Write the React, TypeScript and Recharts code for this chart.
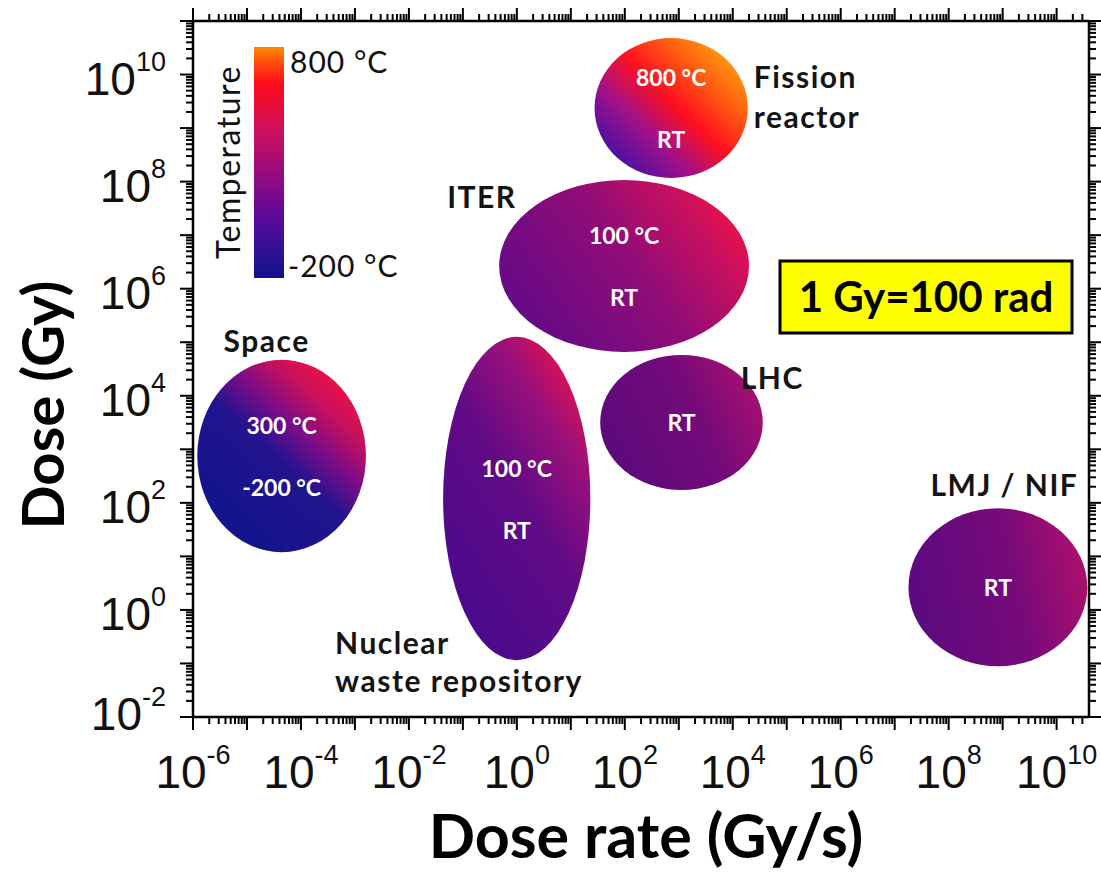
import React from 'react';
import { ComposedChart, XAxis, YAxis, ReferenceArea, Scatter } from 'recharts';

// irradiation environments: dose-rate range (Gy/s) and dose range (Gy)
const regionNames = ['Space', 'Nuclear waste repository', 'ITER', 'Fission reactor', 'LHC', 'LMJ / NIF'];
const doseRateMin = [1.2e-6, 0.043, 0.47, 27.5, 35, 1.8e7];
const doseRateMax = [1.6e-3, 23, 2.0e4, 1.9e4, 3.6e4, 3.7e10];
const doseMin = [12, 0.115, 6.6e4, 1.17e8, 174, 0.089];
const doseMax = [4.7e4, 1.26e5, 1.07e8, 4.8e10, 5.8e4, 79];
const tempHigh = ['300 °C', '100 °C', '100 °C', '800 °C', '', ''];
const tempLow = ['-200 °C', 'RT', 'RT', 'RT', 'RT', 'RT'];

// axis tick labels (powers of ten)
const xTickExponents = [-6, -4, -2, 0, 2, 4, 6, 8, 10];
const yTickExponents = [-2, 0, 2, 4, 6, 8, 10];
const colorbarLabels = ['800 °C', '-200 °C'];

const xDomain: [number, number] = [1e-6, Math.pow(10, 10.6)];
const yDomain: [number, number] = [1e-2, 1e11];

const AXIS_FONT = '"Liberation Sans", Arial, sans-serif';
const TEXT_FONT = 'Lato, "Open Sans", sans-serif';

// region centres (geometric mean of each range) so the axes have data
const centres = regionNames.map((name, i) => ({
  name,
  rate: Math.sqrt(doseRateMin[i] * doseRateMax[i]),
  dose: Math.sqrt(doseMin[i] * doseMax[i]),
}));

// gradient look of every ellipse (direction + stops)
const regionGradients = [
  { x1: 0.25, y1: 0.85, x2: 0.85, y2: 0.1, stops: [[0, '#14148c'], [0.42, '#22148e'], [0.62, '#7a0c88'], [0.82, '#c8105c'], [1, '#f01044']] },
  { x1: 0.2, y1: 0.9, x2: 0.8, y2: 0.05, stops: [[0, '#4a0a8c'], [0.5, '#620a86'], [0.8, '#9a107a'], [1, '#e01050']] },
  { x1: 0, y1: 0.8, x2: 1, y2: 0.3, stops: [[0, '#5e0a88'], [0.55, '#900c78'], [0.85, '#c8105e'], [1, '#f01048']] },
  { x1: 0.1, y1: 0.9, x2: 0.9, y2: 0.15, stops: [[0, '#3a10a8'], [0.3, '#a0108a'], [0.55, '#ff1020'], [0.8, '#ff6010'], [1, '#ff9a10']] },
  { x1: 0, y1: 0.7, x2: 1, y2: 0.3, stops: [[0, '#5a0a7c'], [0.6, '#740a7a'], [1, '#a81070']] },
  { x1: 0, y1: 0.6, x2: 1, y2: 0.4, stops: [[0, '#5a0a80'], [0.6, '#780a7a'], [1, '#ac106c']] },
];

// where the black name of each region sits, relative to its ellipse box
const namePlacement = [
  { lines: ['Space'], anchor: 'middle', fromX: 'center', dx: -15, fromY: 'top', dy: [-8] },
  { lines: ['Nuclear', 'waste repository'], anchor: 'start', fromX: 'left', dx: -108, fromY: 'bottom', dy: [-6, 32] },
  { lines: ['ITER'], anchor: 'start', fromX: 'left', dx: -52, fromY: 'top', dy: [28] },
  { lines: ['Fission', 'reactor'], anchor: 'start', fromX: 'right', dx: 6, fromY: 'top', dy: [50, 90] },
  { lines: ['LHC'], anchor: 'start', fromX: 'right', dx: -22, fromY: 'top', dy: [34] },
  { lines: ['LMJ / NIF'], anchor: 'start', fromX: 'left', dx: 22, fromY: 'top', dy: [-12] },
];

function logTicks(minExp: number, maxVal: number) {
  const out: number[] = [];
  for (let e = minExp; e < 20; e++) {
    for (let m = 1; m <= 9; m++) {
      const v = m * Math.pow(10, e);
      if (v > maxVal * 1.0001) return out;
      out.push(v);
    }
  }
  return out;
}

const xTicks = logTicks(-6, xDomain[1]);
const yTicks = logTicks(-2, yDomain[1]);

const isMajor = (v: number) => Math.abs(Math.log10(v) - Math.round(Math.log10(v))) < 1e-6;
const MAJOR = 13;
const MINOR = 7;

function PowerLabel({ x, y, exp, anchor }: any) {
  return (
    <text x={x} y={y} textAnchor={anchor} fontFamily={AXIS_FONT} fill="#111">
      <tspan fontSize={46}>10</tspan>
      <tspan fontSize={27} dy={-24}>{exp}</tspan>
    </text>
  );
}

function BottomTick(props: any) {
  const { x, y, payload } = props;
  const v = payload.value;
  const major = isMajor(v);
  const exp = Math.round(Math.log10(v));
  return (
    <g>
      <line x1={x} x2={x} y1={y} y2={y + (major ? MAJOR : MINOR)} stroke="#000" strokeWidth={2} />
      {major && xTickExponents.includes(exp) && <PowerLabel x={x} y={y + 71} exp={exp} anchor="middle" />}
    </g>
  );
}

function TopTick(props: any) {
  const { x, y, payload } = props;
  const major = isMajor(payload.value);
  return <line x1={x} x2={x} y1={y} y2={y - (major ? MAJOR : MINOR)} stroke="#000" strokeWidth={2} />;
}

function LeftTick(props: any) {
  const { x, y, payload } = props;
  const v = payload.value;
  const major = isMajor(v);
  const exp = Math.round(Math.log10(v));
  // lowest label is lifted a little so it clears the x labels
  const lift = exp === yTickExponents[0] ? 13 : 20;
  return (
    <g>
      <line x1={x} x2={x - (major ? MAJOR : MINOR)} y1={y} y2={y} stroke="#000" strokeWidth={2} />
      {major && yTickExponents.includes(exp) && <PowerLabel x={x - 27} y={y + lift} exp={exp} anchor="end" />}
    </g>
  );
}

function RightTick(props: any) {
  const { x, y, payload } = props;
  const major = isMajor(payload.value);
  return <line x1={x} x2={x + (major ? MAJOR : MINOR)} y1={y} y2={y} stroke="#000" strokeWidth={2} />;
}

function RegionShape(props: any) {
  const { x, y, width, height, idx } = props;
  const cx = x + width / 2;
  const cy = y + height / 2;
  const g = regionGradients[idx];
  const id = `region-grad-${idx}`;
  const inner = [tempHigh[idx], tempLow[idx]].filter(Boolean);
  const gap = 62;
  const place = namePlacement[idx];
  const nx = (place.fromX === 'left' ? x : place.fromX === 'right' ? x + width : cx) + place.dx;
  const ny0 = place.fromY === 'top' ? y : y + height;
  return (
    <g>
      <defs>
        <linearGradient id={id} x1={g.x1} y1={g.y1} x2={g.x2} y2={g.y2}>
          {g.stops.map(([o, c]) => (
            <stop key={String(o)} offset={o as number} stopColor={c as string} />
          ))}
        </linearGradient>
      </defs>
      <ellipse cx={cx} cy={cy} rx={width / 2} ry={height / 2} fill={`url(#${id})`} />
      {inner.map((t, i) => (
        <text
          key={t}
          x={cx}
          y={cy + (i - (inner.length - 1) / 2) * gap}
          textAnchor="middle"
          dominantBaseline="central"
          fill="#fff"
          fontFamily={TEXT_FONT}
          fontWeight={700}
          fontSize={23}
        >
          {t}
        </text>
      ))}
      {place.lines.map((t, i) => (
        <text
          key={t}
          x={nx}
          y={ny0 + place.dy[i]}
          textAnchor={place.anchor as any}
          fill="#141414"
          fontFamily={TEXT_FONT}
          fontWeight={700}
          fontSize={30}
          letterSpacing={1.5}
        >
          {t}
        </text>
      ))}
    </g>
  );
}

const axisLine = { stroke: '#000', strokeWidth: 2.5 };

export default function App() {
  return (
    <div style={{ position: 'relative', width: 1101, height: 878, background: '#fff' }}>
      <style>{'body{margin:0}'}</style>
      <ComposedChart width={1101} height={878} margin={{ top: 20, right: 11, bottom: 160, left: 192 }}>
        <XAxis
          xAxisId="x"
          dataKey="rate"
          type="number"
          scale="log"
          domain={xDomain}
          allowDataOverflow
          ticks={xTicks}
          interval={0}
          height={1}
          tickSize={0}
          tickMargin={0}
          tickLine={false}
          tick={(p: any) => <BottomTick {...p} />}
          axisLine={axisLine}
        />
        <XAxis
          xAxisId="xTop"
          dataKey="rate"
          orientation="top"
          type="number"
          scale="log"
          domain={xDomain}
          allowDataOverflow
          ticks={xTicks}
          interval={0}
          height={1}
          tickSize={0}
          tickMargin={0}
          tickLine={false}
          tick={(p: any) => <TopTick {...p} />}
          axisLine={axisLine}
        />
        <YAxis
          yAxisId="y"
          dataKey="dose"
          type="number"
          scale="log"
          domain={yDomain}
          allowDataOverflow
          ticks={yTicks}
          interval={0}
          width={1}
          tickSize={0}
          tickMargin={0}
          tickLine={false}
          tick={(p: any) => <LeftTick {...p} />}
          axisLine={axisLine}
        />
        <YAxis
          yAxisId="yRight"
          dataKey="dose"
          orientation="right"
          type="number"
          scale="log"
          domain={yDomain}
          allowDataOverflow
          ticks={yTicks}
          interval={0}
          width={1}
          tickSize={0}
          tickMargin={0}
          tickLine={false}
          tick={(p: any) => <RightTick {...p} />}
          axisLine={axisLine}
        />
        <Scatter xAxisId="x" yAxisId="y" data={centres} dataKey="dose" fill="none" shape={() => <g />} isAnimationActive={false} />
        <Scatter xAxisId="xTop" yAxisId="yRight" data={centres} dataKey="dose" fill="none" shape={() => <g />} isAnimationActive={false} />
        {regionNames.map((name, i) => (
          <ReferenceArea
            key={name}
            xAxisId="x"
            yAxisId="y"
            x1={doseRateMin[i]}
            x2={doseRateMax[i]}
            y1={doseMin[i]}
            y2={doseMax[i]}
            ifOverflow="visible"
            shape={(p: any) => <RegionShape {...p} idx={i} />}
          />
        ))}
      </ComposedChart>

      {/* colour bar, note box and axis titles */}
      <svg width={1101} height={878} style={{ position: 'absolute', left: 0, top: 0, pointerEvents: 'none' }}>
        <defs>
          <linearGradient id="cbar" x1="0" y1="0" x2="0" y2="1">
            <stop offset="0" stopColor="#ff8c00" />
            <stop offset="0.07" stopColor="#ff4a10" />
            <stop offset="0.16" stopColor="#ff0a1a" />
            <stop offset="0.35" stopColor="#d0105a" />
            <stop offset="0.52" stopColor="#a00c78" />
            <stop offset="0.72" stopColor="#60089a" />
            <stop offset="0.88" stopColor="#301296" />
            <stop offset="1" stopColor="#10128c" />
          </linearGradient>
        </defs>
        <rect x={254} y={47} width={30} height={231} fill="url(#cbar)" />
        <text x={290} y={73} fontFamily={TEXT_FONT} fontSize={30} letterSpacing={1} fill="#111">{colorbarLabels[0]}</text>
        <text x={288} y={277} fontFamily={TEXT_FONT} fontSize={30} letterSpacing={1} fill="#111">{colorbarLabels[1]}</text>
        <text x={240} y={162} transform="rotate(-90 240 162)" textAnchor="middle" fontFamily={TEXT_FONT} fontSize={32} letterSpacing={1.5} fill="#111">
          Temperature
        </text>

        <rect x={780} y={261} width={292} height={72} fill="#ffff00" stroke="#000" strokeWidth={3} />
        <text x={926} y={312} textAnchor="middle" fontFamily={TEXT_FONT} fontWeight={700} fontSize={42} fill="#000">
          1 Gy=100 rad
        </text>

        <text x={646} y={858} textAnchor="middle" fontFamily={TEXT_FONT} fontWeight={700} fontSize={61} fill="#000">
          Dose rate (Gy/s)
        </text>
        <text x={64} y={405} transform="rotate(-90 64 405)" textAnchor="middle" fontFamily={TEXT_FONT} fontWeight={700} fontSize={58} fill="#000">
          Dose (Gy)
        </text>
      </svg>
    </div>
  );
}
